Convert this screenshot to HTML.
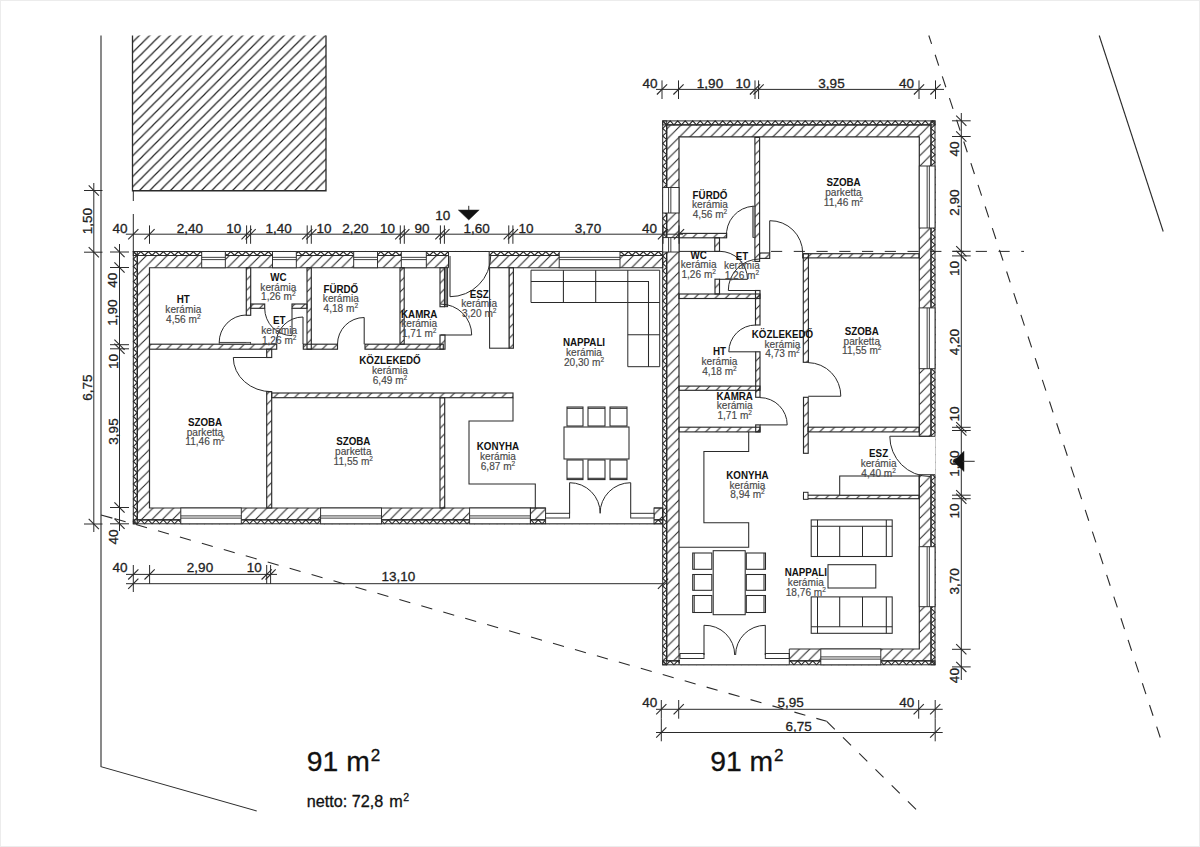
<!DOCTYPE html>
<html><head><meta charset="utf-8"><style>
html,body{margin:0;padding:0;background:#fff;overflow:hidden;}
svg{display:block;font-family:"Liberation Sans",sans-serif;}
</style></head><body>
<svg width="1200" height="847" viewBox="0 0 1200 847">
<rect x="0" y="0" width="1200" height="847" fill="#fff"/>
<defs>
<pattern id="hatch" patternUnits="userSpaceOnUse" width="10.36" height="10.36" x="8.35" y="0">
<path d="M0,10.36 L10.36,0 M-3,3 L3,-3 M7.36,13.36 L13.36,7.36" stroke="#2a2a2a" stroke-width="1.1"/>
</pattern>
<pattern id="hatch2" patternUnits="userSpaceOnUse" width="10.34" height="10.34" x="132.5" y="31.96">
<path d="M0,10.34 L10.34,0 M-3,3 L3,-3 M7.34,13.34 L13.34,7.34" stroke="#222" stroke-width="1.2"/>
</pattern>
<pattern id="insh" patternUnits="userSpaceOnUse" width="7.5" height="40" x="0" y="0">
<path d="M0,0 L3.75,4 L7.5,0" fill="none" stroke="#333" stroke-width="0.95"/>
</pattern>
<pattern id="insv" patternUnits="userSpaceOnUse" width="40" height="7.5" x="0" y="0">
<path d="M0,0 L4.2,3.75 L0,7.5" fill="none" stroke="#333" stroke-width="0.95"/>
</pattern>
</defs>
<path d="M101,35.5 L101,766.7 L256.7,811" fill="none" stroke="#2a2a2a" stroke-width="1.1" />
<rect x="132.5" y="35.5" width="193.5" height="155.25" fill="url(#hatch2)"/>
<path d="M132.5,35.5 V190.75 H326 V35.5" fill="none" stroke="#2a2a2a" stroke-width="1.3" />
<path d="M101,515 L133.3,523.8" fill="none" stroke="#2a2a2a" stroke-width="1.1" stroke-dasharray="11.8,2.7,11,100"/>
<path d="M133.3,523.8 L826.7,721.3" fill="none" stroke="#2a2a2a" stroke-width="1.1" stroke-dasharray="11.4,11.42" stroke-dashoffset="20.02"/>
<path d="M826.7,721.3 L917.3,810.7" fill="none" stroke="#2a2a2a" stroke-width="1.1" stroke-dasharray="11.4,11.42"/>
<path d="M928.8,35.5 L1163.7,748" fill="none" stroke="#2a2a2a" stroke-width="1.1" stroke-dasharray="11.4,11.42" stroke-dashoffset="2.52"/>
<line x1="1099.2" y1="35.5" x2="1163.2" y2="231.5" stroke="#2a2a2a" stroke-width="1.1" />
<line x1="679" y1="251.4" x2="719.5" y2="251.4" stroke="#2a2a2a" stroke-width="1" />
<line x1="760" y1="251.4" x2="1024" y2="251.4" stroke="#2a2a2a" stroke-width="1" stroke-dasharray="11.2,11.55" stroke-dashoffset="11.75"/>
<path d="M137.3,255.5 H662.7 V267.75 H149.5 V508.0 H662.7 V519.8 H137.3 Z" fill="url(#hatch)" stroke="#2a2a2a" stroke-width="1.2"/>
<svg x="133.3" y="250.5" width="529.4" height="6" viewBox="133.3 250.5 529.4 6" overflow="hidden"><path d="M133.3,251.5 L137.05,255.5 L140.8,251.5 L144.55,255.5 L148.3,251.5 L152.05,255.5 L155.8,251.5 L159.55,255.5 L163.3,251.5 L167.05,255.5 L170.8,251.5 L174.55,255.5 L178.3,251.5 L182.05,255.5 L185.8,251.5 L189.55,255.5 L193.3,251.5 L197.05,255.5 L200.8,251.5 L204.55,255.5 L208.3,251.5 L212.05,255.5 L215.8,251.5 L219.55,255.5 L223.3,251.5 L227.05,255.5 L230.8,251.5 L234.55,255.5 L238.3,251.5 L242.05,255.5 L245.8,251.5 L249.55,255.5 L253.3,251.5 L257.05,255.5 L260.8,251.5 L264.55,255.5 L268.3,251.5 L272.05,255.5 L275.8,251.5 L279.55,255.5 L283.3,251.5 L287.05,255.5 L290.8,251.5 L294.55,255.5 L298.3,251.5 L302.05,255.5 L305.8,251.5 L309.55,255.5 L313.3,251.5 L317.05,255.5 L320.8,251.5 L324.55,255.5 L328.3,251.5 L332.05,255.5 L335.8,251.5 L339.55,255.5 L343.3,251.5 L347.05,255.5 L350.8,251.5 L354.55,255.5 L358.3,251.5 L362.05,255.5 L365.8,251.5 L369.55,255.5 L373.3,251.5 L377.05,255.5 L380.8,251.5 L384.55,255.5 L388.3,251.5 L392.05,255.5 L395.8,251.5 L399.55,255.5 L403.3,251.5 L407.05,255.5 L410.8,251.5 L414.55,255.5 L418.3,251.5 L422.05,255.5 L425.8,251.5 L429.55,255.5 L433.3,251.5 L437.05,255.5 L440.8,251.5 L444.55,255.5 L448.3,251.5 L452.05,255.5 L455.8,251.5 L459.55,255.5 L463.3,251.5 L467.05,255.5 L470.8,251.5 L474.55,255.5 L478.3,251.5 L482.05,255.5 L485.8,251.5 L489.55,255.5 L493.3,251.5 L497.05,255.5 L500.8,251.5 L504.55,255.5 L508.3,251.5 L512.05,255.5 L515.8,251.5 L519.55,255.5 L523.3,251.5 L527.05,255.5 L530.8,251.5 L534.55,255.5 L538.3,251.5 L542.05,255.5 L545.8,251.5 L549.55,255.5 L553.3,251.5 L557.05,255.5 L560.8,251.5 L564.55,255.5 L568.3,251.5 L572.05,255.5 L575.8,251.5 L579.55,255.5 L583.3,251.5 L587.05,255.5 L590.8,251.5 L594.55,255.5 L598.3,251.5 L602.05,255.5 L605.8,251.5 L609.55,255.5 L613.3,251.5 L617.05,255.5 L620.8,251.5 L624.55,255.5 L628.3,251.5 L632.05,255.5 L635.8,251.5 L639.55,255.5 L643.3,251.5 L647.05,255.5 L650.8,251.5 L654.55,255.5 L658.3,251.5 L662.05,255.5 L665.8,251.5" fill="none" stroke="#2a2a2a" stroke-width="1.1"/></svg>
<rect x="133.3" y="251.5" width="529.4" height="4" fill="none" stroke="#2a2a2a" stroke-width="1.0" />
<svg x="133.3" y="518.8" width="529.4" height="6" viewBox="133.3 518.8 529.4 6" overflow="hidden"><path d="M133.3,519.8 L137.05,523.8 L140.8,519.8 L144.55,523.8 L148.3,519.8 L152.05,523.8 L155.8,519.8 L159.55,523.8 L163.3,519.8 L167.05,523.8 L170.8,519.8 L174.55,523.8 L178.3,519.8 L182.05,523.8 L185.8,519.8 L189.55,523.8 L193.3,519.8 L197.05,523.8 L200.8,519.8 L204.55,523.8 L208.3,519.8 L212.05,523.8 L215.8,519.8 L219.55,523.8 L223.3,519.8 L227.05,523.8 L230.8,519.8 L234.55,523.8 L238.3,519.8 L242.05,523.8 L245.8,519.8 L249.55,523.8 L253.3,519.8 L257.05,523.8 L260.8,519.8 L264.55,523.8 L268.3,519.8 L272.05,523.8 L275.8,519.8 L279.55,523.8 L283.3,519.8 L287.05,523.8 L290.8,519.8 L294.55,523.8 L298.3,519.8 L302.05,523.8 L305.8,519.8 L309.55,523.8 L313.3,519.8 L317.05,523.8 L320.8,519.8 L324.55,523.8 L328.3,519.8 L332.05,523.8 L335.8,519.8 L339.55,523.8 L343.3,519.8 L347.05,523.8 L350.8,519.8 L354.55,523.8 L358.3,519.8 L362.05,523.8 L365.8,519.8 L369.55,523.8 L373.3,519.8 L377.05,523.8 L380.8,519.8 L384.55,523.8 L388.3,519.8 L392.05,523.8 L395.8,519.8 L399.55,523.8 L403.3,519.8 L407.05,523.8 L410.8,519.8 L414.55,523.8 L418.3,519.8 L422.05,523.8 L425.8,519.8 L429.55,523.8 L433.3,519.8 L437.05,523.8 L440.8,519.8 L444.55,523.8 L448.3,519.8 L452.05,523.8 L455.8,519.8 L459.55,523.8 L463.3,519.8 L467.05,523.8 L470.8,519.8 L474.55,523.8 L478.3,519.8 L482.05,523.8 L485.8,519.8 L489.55,523.8 L493.3,519.8 L497.05,523.8 L500.8,519.8 L504.55,523.8 L508.3,519.8 L512.05,523.8 L515.8,519.8 L519.55,523.8 L523.3,519.8 L527.05,523.8 L530.8,519.8 L534.55,523.8 L538.3,519.8 L542.05,523.8 L545.8,519.8 L549.55,523.8 L553.3,519.8 L557.05,523.8 L560.8,519.8 L564.55,523.8 L568.3,519.8 L572.05,523.8 L575.8,519.8 L579.55,523.8 L583.3,519.8 L587.05,523.8 L590.8,519.8 L594.55,523.8 L598.3,519.8 L602.05,523.8 L605.8,519.8 L609.55,523.8 L613.3,519.8 L617.05,523.8 L620.8,519.8 L624.55,523.8 L628.3,519.8 L632.05,523.8 L635.8,519.8 L639.55,523.8 L643.3,519.8 L647.05,523.8 L650.8,519.8 L654.55,523.8 L658.3,519.8 L662.05,523.8 L665.8,519.8" fill="none" stroke="#2a2a2a" stroke-width="1.1"/></svg>
<rect x="133.3" y="519.8" width="529.4" height="4" fill="none" stroke="#2a2a2a" stroke-width="1.0" />
<svg x="132.3" y="251.5" width="6" height="272.3" viewBox="132.3 251.5 6 272.3" overflow="hidden"><path d="M133.3,251.5 L137.3,255.25 L133.3,259 L137.3,262.75 L133.3,266.5 L137.3,270.25 L133.3,274 L137.3,277.75 L133.3,281.5 L137.3,285.25 L133.3,289 L137.3,292.75 L133.3,296.5 L137.3,300.25 L133.3,304 L137.3,307.75 L133.3,311.5 L137.3,315.25 L133.3,319 L137.3,322.75 L133.3,326.5 L137.3,330.25 L133.3,334 L137.3,337.75 L133.3,341.5 L137.3,345.25 L133.3,349 L137.3,352.75 L133.3,356.5 L137.3,360.25 L133.3,364 L137.3,367.75 L133.3,371.5 L137.3,375.25 L133.3,379 L137.3,382.75 L133.3,386.5 L137.3,390.25 L133.3,394 L137.3,397.75 L133.3,401.5 L137.3,405.25 L133.3,409 L137.3,412.75 L133.3,416.5 L137.3,420.25 L133.3,424 L137.3,427.75 L133.3,431.5 L137.3,435.25 L133.3,439 L137.3,442.75 L133.3,446.5 L137.3,450.25 L133.3,454 L137.3,457.75 L133.3,461.5 L137.3,465.25 L133.3,469 L137.3,472.75 L133.3,476.5 L137.3,480.25 L133.3,484 L137.3,487.75 L133.3,491.5 L137.3,495.25 L133.3,499 L137.3,502.75 L133.3,506.5 L137.3,510.25 L133.3,514 L137.3,517.75 L133.3,521.5 L137.3,525.25" fill="none" stroke="#2a2a2a" stroke-width="1.1"/></svg>
<rect x="133.3" y="251.5" width="4" height="272.3" fill="none" stroke="#2a2a2a" stroke-width="1.0" />
<path d="M666.7,124.9 H931.0 V660.8 H666.7 Z M679.0,136.9 V649.0 H919.3 V136.9 Z" fill="url(#hatch)" stroke="#2a2a2a" stroke-width="1.2" fill-rule="evenodd"/>
<svg x="662.7" y="119.9" width="272.3" height="6" viewBox="662.7 119.9 272.3 6" overflow="hidden"><path d="M662.7,120.9 L666.45,124.9 L670.2,120.9 L673.95,124.9 L677.7,120.9 L681.45,124.9 L685.2,120.9 L688.95,124.9 L692.7,120.9 L696.45,124.9 L700.2,120.9 L703.95,124.9 L707.7,120.9 L711.45,124.9 L715.2,120.9 L718.95,124.9 L722.7,120.9 L726.45,124.9 L730.2,120.9 L733.95,124.9 L737.7,120.9 L741.45,124.9 L745.2,120.9 L748.95,124.9 L752.7,120.9 L756.45,124.9 L760.2,120.9 L763.95,124.9 L767.7,120.9 L771.45,124.9 L775.2,120.9 L778.95,124.9 L782.7,120.9 L786.45,124.9 L790.2,120.9 L793.95,124.9 L797.7,120.9 L801.45,124.9 L805.2,120.9 L808.95,124.9 L812.7,120.9 L816.45,124.9 L820.2,120.9 L823.95,124.9 L827.7,120.9 L831.45,124.9 L835.2,120.9 L838.95,124.9 L842.7,120.9 L846.45,124.9 L850.2,120.9 L853.95,124.9 L857.7,120.9 L861.45,124.9 L865.2,120.9 L868.95,124.9 L872.7,120.9 L876.45,124.9 L880.2,120.9 L883.95,124.9 L887.7,120.9 L891.45,124.9 L895.2,120.9 L898.95,124.9 L902.7,120.9 L906.45,124.9 L910.2,120.9 L913.95,124.9 L917.7,120.9 L921.45,124.9 L925.2,120.9 L928.95,124.9 L932.7,120.9 L936.45,124.9" fill="none" stroke="#2a2a2a" stroke-width="1.1"/></svg>
<rect x="662.7" y="120.9" width="272.3" height="4" fill="none" stroke="#2a2a2a" stroke-width="1.0" />
<svg x="662.7" y="659.8" width="272.3" height="6" viewBox="662.7 659.8 272.3 6" overflow="hidden"><path d="M662.7,660.8 L666.45,664.8 L670.2,660.8 L673.95,664.8 L677.7,660.8 L681.45,664.8 L685.2,660.8 L688.95,664.8 L692.7,660.8 L696.45,664.8 L700.2,660.8 L703.95,664.8 L707.7,660.8 L711.45,664.8 L715.2,660.8 L718.95,664.8 L722.7,660.8 L726.45,664.8 L730.2,660.8 L733.95,664.8 L737.7,660.8 L741.45,664.8 L745.2,660.8 L748.95,664.8 L752.7,660.8 L756.45,664.8 L760.2,660.8 L763.95,664.8 L767.7,660.8 L771.45,664.8 L775.2,660.8 L778.95,664.8 L782.7,660.8 L786.45,664.8 L790.2,660.8 L793.95,664.8 L797.7,660.8 L801.45,664.8 L805.2,660.8 L808.95,664.8 L812.7,660.8 L816.45,664.8 L820.2,660.8 L823.95,664.8 L827.7,660.8 L831.45,664.8 L835.2,660.8 L838.95,664.8 L842.7,660.8 L846.45,664.8 L850.2,660.8 L853.95,664.8 L857.7,660.8 L861.45,664.8 L865.2,660.8 L868.95,664.8 L872.7,660.8 L876.45,664.8 L880.2,660.8 L883.95,664.8 L887.7,660.8 L891.45,664.8 L895.2,660.8 L898.95,664.8 L902.7,660.8 L906.45,664.8 L910.2,660.8 L913.95,664.8 L917.7,660.8 L921.45,664.8 L925.2,660.8 L928.95,664.8 L932.7,660.8 L936.45,664.8" fill="none" stroke="#2a2a2a" stroke-width="1.1"/></svg>
<rect x="662.7" y="660.8" width="272.3" height="4" fill="none" stroke="#2a2a2a" stroke-width="1.0" />
<svg x="661.7" y="120.9" width="6" height="543.9" viewBox="661.7 120.9 6 543.9" overflow="hidden"><path d="M662.7,120.9 L666.7,124.65 L662.7,128.4 L666.7,132.15 L662.7,135.9 L666.7,139.65 L662.7,143.4 L666.7,147.15 L662.7,150.9 L666.7,154.65 L662.7,158.4 L666.7,162.15 L662.7,165.9 L666.7,169.65 L662.7,173.4 L666.7,177.15 L662.7,180.9 L666.7,184.65 L662.7,188.4 L666.7,192.15 L662.7,195.9 L666.7,199.65 L662.7,203.4 L666.7,207.15 L662.7,210.9 L666.7,214.65 L662.7,218.4 L666.7,222.15 L662.7,225.9 L666.7,229.65 L662.7,233.4 L666.7,237.15 L662.7,240.9 L666.7,244.65 L662.7,248.4 L666.7,252.15 L662.7,255.9 L666.7,259.65 L662.7,263.4 L666.7,267.15 L662.7,270.9 L666.7,274.65 L662.7,278.4 L666.7,282.15 L662.7,285.9 L666.7,289.65 L662.7,293.4 L666.7,297.15 L662.7,300.9 L666.7,304.65 L662.7,308.4 L666.7,312.15 L662.7,315.9 L666.7,319.65 L662.7,323.4 L666.7,327.15 L662.7,330.9 L666.7,334.65 L662.7,338.4 L666.7,342.15 L662.7,345.9 L666.7,349.65 L662.7,353.4 L666.7,357.15 L662.7,360.9 L666.7,364.65 L662.7,368.4 L666.7,372.15 L662.7,375.9 L666.7,379.65 L662.7,383.4 L666.7,387.15 L662.7,390.9 L666.7,394.65 L662.7,398.4 L666.7,402.15 L662.7,405.9 L666.7,409.65 L662.7,413.4 L666.7,417.15 L662.7,420.9 L666.7,424.65 L662.7,428.4 L666.7,432.15 L662.7,435.9 L666.7,439.65 L662.7,443.4 L666.7,447.15 L662.7,450.9 L666.7,454.65 L662.7,458.4 L666.7,462.15 L662.7,465.9 L666.7,469.65 L662.7,473.4 L666.7,477.15 L662.7,480.9 L666.7,484.65 L662.7,488.4 L666.7,492.15 L662.7,495.9 L666.7,499.65 L662.7,503.4 L666.7,507.15 L662.7,510.9 L666.7,514.65 L662.7,518.4 L666.7,522.15 L662.7,525.9 L666.7,529.65 L662.7,533.4 L666.7,537.15 L662.7,540.9 L666.7,544.65 L662.7,548.4 L666.7,552.15 L662.7,555.9 L666.7,559.65 L662.7,563.4 L666.7,567.15 L662.7,570.9 L666.7,574.65 L662.7,578.4 L666.7,582.15 L662.7,585.9 L666.7,589.65 L662.7,593.4 L666.7,597.15 L662.7,600.9 L666.7,604.65 L662.7,608.4 L666.7,612.15 L662.7,615.9 L666.7,619.65 L662.7,623.4 L666.7,627.15 L662.7,630.9 L666.7,634.65 L662.7,638.4 L666.7,642.15 L662.7,645.9 L666.7,649.65 L662.7,653.4 L666.7,657.15 L662.7,660.9 L666.7,664.65 L662.7,668.4" fill="none" stroke="#2a2a2a" stroke-width="1.1"/></svg>
<rect x="662.7" y="120.9" width="4" height="543.9" fill="none" stroke="#2a2a2a" stroke-width="1.0" />
<svg x="930" y="120.9" width="6" height="543.9" viewBox="930 120.9 6 543.9" overflow="hidden"><path d="M931,120.9 L935,124.65 L931,128.4 L935,132.15 L931,135.9 L935,139.65 L931,143.4 L935,147.15 L931,150.9 L935,154.65 L931,158.4 L935,162.15 L931,165.9 L935,169.65 L931,173.4 L935,177.15 L931,180.9 L935,184.65 L931,188.4 L935,192.15 L931,195.9 L935,199.65 L931,203.4 L935,207.15 L931,210.9 L935,214.65 L931,218.4 L935,222.15 L931,225.9 L935,229.65 L931,233.4 L935,237.15 L931,240.9 L935,244.65 L931,248.4 L935,252.15 L931,255.9 L935,259.65 L931,263.4 L935,267.15 L931,270.9 L935,274.65 L931,278.4 L935,282.15 L931,285.9 L935,289.65 L931,293.4 L935,297.15 L931,300.9 L935,304.65 L931,308.4 L935,312.15 L931,315.9 L935,319.65 L931,323.4 L935,327.15 L931,330.9 L935,334.65 L931,338.4 L935,342.15 L931,345.9 L935,349.65 L931,353.4 L935,357.15 L931,360.9 L935,364.65 L931,368.4 L935,372.15 L931,375.9 L935,379.65 L931,383.4 L935,387.15 L931,390.9 L935,394.65 L931,398.4 L935,402.15 L931,405.9 L935,409.65 L931,413.4 L935,417.15 L931,420.9 L935,424.65 L931,428.4 L935,432.15 L931,435.9 L935,439.65 L931,443.4 L935,447.15 L931,450.9 L935,454.65 L931,458.4 L935,462.15 L931,465.9 L935,469.65 L931,473.4 L935,477.15 L931,480.9 L935,484.65 L931,488.4 L935,492.15 L931,495.9 L935,499.65 L931,503.4 L935,507.15 L931,510.9 L935,514.65 L931,518.4 L935,522.15 L931,525.9 L935,529.65 L931,533.4 L935,537.15 L931,540.9 L935,544.65 L931,548.4 L935,552.15 L931,555.9 L935,559.65 L931,563.4 L935,567.15 L931,570.9 L935,574.65 L931,578.4 L935,582.15 L931,585.9 L935,589.65 L931,593.4 L935,597.15 L931,600.9 L935,604.65 L931,608.4 L935,612.15 L931,615.9 L935,619.65 L931,623.4 L935,627.15 L931,630.9 L935,634.65 L931,638.4 L935,642.15 L931,645.9 L935,649.65 L931,653.4 L935,657.15 L931,660.9 L935,664.65 L931,668.4" fill="none" stroke="#2a2a2a" stroke-width="1.1"/></svg>
<rect x="931" y="120.9" width="4" height="543.9" fill="none" stroke="#2a2a2a" stroke-width="1.0" />
<rect x="201.7" y="251.5" width="23.6" height="16.25" fill="#fff" stroke="#2a2a2a" stroke-width="0.95" />
<line x1="201.7" y1="257.35" x2="225.3" y2="257.35" stroke="#2a2a2a" stroke-width="0.9" />
<line x1="201.7" y1="259.62" x2="225.3" y2="259.62" stroke="#2a2a2a" stroke-width="0.9" />
<rect x="272.5" y="251.5" width="23.8" height="16.25" fill="#fff" stroke="#2a2a2a" stroke-width="0.95" />
<line x1="272.5" y1="257.35" x2="296.3" y2="257.35" stroke="#2a2a2a" stroke-width="0.9" />
<line x1="272.5" y1="259.62" x2="296.3" y2="259.62" stroke="#2a2a2a" stroke-width="0.9" />
<rect x="353.7" y="251.5" width="23.8" height="16.25" fill="#fff" stroke="#2a2a2a" stroke-width="0.95" />
<line x1="353.7" y1="257.35" x2="377.5" y2="257.35" stroke="#2a2a2a" stroke-width="0.9" />
<line x1="353.7" y1="259.62" x2="377.5" y2="259.62" stroke="#2a2a2a" stroke-width="0.9" />
<rect x="401.3" y="251.5" width="25" height="16.25" fill="#fff" stroke="#2a2a2a" stroke-width="0.95" />
<line x1="401.3" y1="257.35" x2="426.3" y2="257.35" stroke="#2a2a2a" stroke-width="0.9" />
<line x1="401.3" y1="259.62" x2="426.3" y2="259.62" stroke="#2a2a2a" stroke-width="0.9" />
<rect x="559.2" y="251.5" width="60.8" height="16.25" fill="#fff" stroke="#2a2a2a" stroke-width="0.95" />
<line x1="559.2" y1="257.35" x2="620" y2="257.35" stroke="#2a2a2a" stroke-width="0.9" />
<line x1="559.2" y1="259.62" x2="620" y2="259.62" stroke="#2a2a2a" stroke-width="0.9" />
<rect x="448.5" y="251" width="40.7" height="18.35" fill="#fff"/>
<line x1="448.5" y1="251.5" x2="489.2" y2="251.5" stroke="#2a2a2a" stroke-width="1.05" />
<line x1="448.5" y1="251.5" x2="448.5" y2="267.75" stroke="#2a2a2a" stroke-width="1.05" />
<line x1="489.2" y1="251.5" x2="489.2" y2="267.75" stroke="#2a2a2a" stroke-width="1.05" />
<rect x="180.8" y="508" width="60.5" height="15.8" fill="#fff" stroke="#2a2a2a" stroke-width="0.95" />
<line x1="180.8" y1="518.11" x2="241.3" y2="518.11" stroke="#2a2a2a" stroke-width="0.9" />
<line x1="180.8" y1="515.9" x2="241.3" y2="515.9" stroke="#2a2a2a" stroke-width="0.9" />
<rect x="320.6" y="508" width="60.9" height="15.8" fill="#fff" stroke="#2a2a2a" stroke-width="0.95" />
<line x1="320.6" y1="518.11" x2="381.5" y2="518.11" stroke="#2a2a2a" stroke-width="0.9" />
<line x1="320.6" y1="515.9" x2="381.5" y2="515.9" stroke="#2a2a2a" stroke-width="0.9" />
<rect x="469.6" y="508" width="60.8" height="15.8" fill="#fff" stroke="#2a2a2a" stroke-width="0.95" />
<line x1="469.6" y1="518.11" x2="530.4" y2="518.11" stroke="#2a2a2a" stroke-width="0.9" />
<line x1="469.6" y1="515.9" x2="530.4" y2="515.9" stroke="#2a2a2a" stroke-width="0.9" />
<rect x="545.6" y="506.4" width="108.4" height="17.9" fill="#fff"/>
<rect x="530.4" y="508" width="15.2" height="15.8" fill="none" stroke="#2a2a2a" stroke-width="0.95" />
<rect x="654" y="508" width="8.7" height="15.8" fill="none" stroke="#2a2a2a" stroke-width="0.95" />
<line x1="545.6" y1="523.8" x2="654" y2="523.8" stroke="#2a2a2a" stroke-width="1.05" />
<rect x="545.6" y="513.3" width="24" height="4.7" fill="#fff" stroke="#2a2a2a" stroke-width="0.95" />
<rect x="630.7" y="513.3" width="23.3" height="4.7" fill="#fff" stroke="#2a2a2a" stroke-width="0.95" />
<rect x="662.7" y="187.5" width="16.3" height="25.5" fill="#fff" stroke="#2a2a2a" stroke-width="0.95" />
<line x1="668.57" y1="187.5" x2="668.57" y2="213" stroke="#2a2a2a" stroke-width="0.9" />
<line x1="670.85" y1="187.5" x2="670.85" y2="213" stroke="#2a2a2a" stroke-width="0.9" />
<rect x="662.7" y="237.6" width="16.3" height="14.4" fill="#fff" stroke="#2a2a2a" stroke-width="0.95" />
<line x1="668.57" y1="237.6" x2="668.57" y2="252" stroke="#2a2a2a" stroke-width="0.9" />
<line x1="670.85" y1="237.6" x2="670.85" y2="252" stroke="#2a2a2a" stroke-width="0.9" />
<rect x="919.3" y="166" width="15.7" height="62" fill="#fff" stroke="#2a2a2a" stroke-width="0.95" />
<line x1="929.35" y1="166" x2="929.35" y2="228" stroke="#2a2a2a" stroke-width="0.9" />
<line x1="927.15" y1="166" x2="927.15" y2="228" stroke="#2a2a2a" stroke-width="0.9" />
<rect x="919.3" y="307.9" width="15.7" height="60.8" fill="#fff" stroke="#2a2a2a" stroke-width="0.95" />
<line x1="929.35" y1="307.9" x2="929.35" y2="368.7" stroke="#2a2a2a" stroke-width="0.9" />
<line x1="927.15" y1="307.9" x2="927.15" y2="368.7" stroke="#2a2a2a" stroke-width="0.9" />
<rect x="919.3" y="546.7" width="15.7" height="60" fill="#fff" stroke="#2a2a2a" stroke-width="0.95" />
<line x1="929.35" y1="546.7" x2="929.35" y2="606.7" stroke="#2a2a2a" stroke-width="0.9" />
<line x1="927.15" y1="546.7" x2="927.15" y2="606.7" stroke="#2a2a2a" stroke-width="0.9" />
<rect x="917.7" y="436.3" width="17.8" height="38.4" fill="#fff"/>
<line x1="919.3" y1="436.3" x2="935" y2="436.3" stroke="#2a2a2a" stroke-width="0.95" />
<line x1="919.3" y1="474.7" x2="935" y2="474.7" stroke="#2a2a2a" stroke-width="0.95" />
<rect x="820.8" y="649" width="60" height="15.8" fill="#fff" stroke="#2a2a2a" stroke-width="0.95" />
<line x1="820.8" y1="659.11" x2="880.8" y2="659.11" stroke="#2a2a2a" stroke-width="0.9" />
<line x1="820.8" y1="656.9" x2="880.8" y2="656.9" stroke="#2a2a2a" stroke-width="0.9" />
<rect x="680" y="647.4" width="109.3" height="17.9" fill="#fff"/>
<line x1="680" y1="664.8" x2="789.3" y2="664.8" stroke="#2a2a2a" stroke-width="1.05" />
<rect x="680" y="653.5" width="24" height="5" fill="#fff" stroke="#2a2a2a" stroke-width="0.95" />
<rect x="765.3" y="653.5" width="24" height="5" fill="#fff" stroke="#2a2a2a" stroke-width="0.95" />
<line x1="679" y1="649" x2="679" y2="664.8" stroke="#2a2a2a" stroke-width="0.95" />
<line x1="789.3" y1="649" x2="789.3" y2="664.8" stroke="#2a2a2a" stroke-width="0.95" />
<rect x="246.3" y="267.75" width="4.4" height="47.55" fill="url(#hatch)" stroke="#2a2a2a" stroke-width="1.15" />
<rect x="250.7" y="304" width="14" height="4.3" fill="url(#hatch)" stroke="#2a2a2a" stroke-width="1.15" />
<rect x="292" y="304" width="15" height="4.3" fill="url(#hatch)" stroke="#2a2a2a" stroke-width="1.15" />
<rect x="307" y="267.75" width="4.3" height="81.45" fill="url(#hatch)" stroke="#2a2a2a" stroke-width="1.15" />
<rect x="149.5" y="344.2" width="127.2" height="5" fill="url(#hatch)" stroke="#2a2a2a" stroke-width="1.15" />
<rect x="266.7" y="349.2" width="5" height="8.3" fill="url(#hatch)" stroke="#2a2a2a" stroke-width="1.15" />
<rect x="266.7" y="391.7" width="5" height="116.3" fill="url(#hatch)" stroke="#2a2a2a" stroke-width="1.15" />
<rect x="271.7" y="393" width="241.3" height="4.7" fill="url(#hatch)" stroke="#2a2a2a" stroke-width="1.15" />
<rect x="440" y="397.7" width="4.7" height="110.3" fill="url(#hatch)" stroke="#2a2a2a" stroke-width="1.15" />
<rect x="303.3" y="344.2" width="34.2" height="5" fill="url(#hatch)" stroke="#2a2a2a" stroke-width="1.15" />
<rect x="365" y="344.2" width="78.3" height="5" fill="url(#hatch)" stroke="#2a2a2a" stroke-width="1.15" />
<rect x="400" y="267.75" width="4.2" height="76.45" fill="url(#hatch)" stroke="#2a2a2a" stroke-width="1.15" />
<rect x="440" y="267.75" width="4.5" height="38.95" fill="url(#hatch)" stroke="#2a2a2a" stroke-width="1.15" />
<rect x="440" y="335" width="5" height="14.2" fill="url(#hatch)" stroke="#2a2a2a" stroke-width="1.15" />
<rect x="509" y="267.75" width="4.4" height="80.45" fill="url(#hatch)" stroke="#2a2a2a" stroke-width="1.15" />
<rect x="489.6" y="267.75" width="19.4" height="80.45" fill="#fff" stroke="#2a2a2a" stroke-width="1.05" />
<rect x="444.5" y="267.75" width="3.1" height="38.95" fill="#777" stroke="#2a2a2a" stroke-width="0.9" />
<line x1="246.2" y1="342.5" x2="219.2" y2="342.5" stroke="#2a2a2a" stroke-width="1.05" />
<path d="M219.2,342.5 A27.3,27.3 0 0 1 246.2,315" fill="none" stroke="#2a2a2a" stroke-width="1.0" />
<rect x="219.2" y="342.3" width="31.5" height="1.9" fill="#bbb" stroke="#2a2a2a" stroke-width="0.7" />
<line x1="292" y1="308.3" x2="292" y2="335.6" stroke="#2a2a2a" stroke-width="1.05" />
<path d="M292,335.6 A27.3,27.3 0 0 1 264.7,308.3" fill="none" stroke="#2a2a2a" stroke-width="1.0" />
<line x1="303" y1="344" x2="303" y2="317" stroke="#2a2a2a" stroke-width="1.05" />
<path d="M303,317 A27,27 0 0 0 276,344" fill="none" stroke="#2a2a2a" stroke-width="1.0" />
<line x1="266.7" y1="357.5" x2="233.3" y2="357.5" stroke="#2a2a2a" stroke-width="1.05" />
<path d="M233.3,357.5 A38.4,34.2 0 0 0 271.7,391.7" fill="none" stroke="#2a2a2a" stroke-width="1.0" />
<line x1="364.2" y1="344.2" x2="364.2" y2="317.5" stroke="#2a2a2a" stroke-width="1.05" />
<path d="M364.2,317.5 A26.7,26.7 0 0 0 337.5,344.2" fill="none" stroke="#2a2a2a" stroke-width="1.0" />
<line x1="440.8" y1="335" x2="471.7" y2="335" stroke="#2a2a2a" stroke-width="1.05" />
<path d="M471.7,335 A30.9,30.9 0 0 0 440.8,304.1" fill="none" stroke="#2a2a2a" stroke-width="1.0" />
<line x1="450" y1="256" x2="450" y2="296.7" stroke="#2a2a2a" stroke-width="1.05" />
<path d="M450,296.7 A40.7,40.7 0 0 0 490.7,256" fill="none" stroke="#2a2a2a" stroke-width="1.0" />
<line x1="569.6" y1="513.3" x2="569.6" y2="482.7" stroke="#2a2a2a" stroke-width="1.05" />
<path d="M569.6,482.7 A30.6,30.6 0 0 1 600.2,513.3" fill="none" stroke="#2a2a2a" stroke-width="1.0" />
<line x1="630.7" y1="513.3" x2="630.7" y2="482.7" stroke="#2a2a2a" stroke-width="1.05" />
<path d="M630.7,482.7 A30.6,30.6 0 0 0 600.1,513.3" fill="none" stroke="#2a2a2a" stroke-width="1.0" />
<path d="M531,270.2 H659.7 V366.7 H627.8 V302.5 H531 Z" fill="none" stroke="#2a2a2a" stroke-width="1" />
<path d="M531,281.5 H648.5 V366.7" fill="none" stroke="#2a2a2a" stroke-width="1.05" />
<line x1="563.4" y1="270.2" x2="563.4" y2="302.5" stroke="#2a2a2a" stroke-width="1.05" />
<line x1="595.7" y1="270.2" x2="595.7" y2="302.5" stroke="#2a2a2a" stroke-width="1.05" />
<line x1="627.8" y1="270.2" x2="627.8" y2="302.5" stroke="#2a2a2a" stroke-width="1.05" />
<line x1="627.8" y1="334.7" x2="659.7" y2="334.7" stroke="#2a2a2a" stroke-width="1.05" />
<line x1="627.8" y1="302.5" x2="659.7" y2="302.5" stroke="#2a2a2a" stroke-width="1.05" />
<path d="M513,397.7 V421 H469 V484 H535.3 V508" fill="none" stroke="#2a2a2a" stroke-width="1.05" />
<rect x="564" y="427" width="65" height="32" fill="#fff" stroke="#2a2a2a" stroke-width="1.05" />
<rect x="567" y="407" width="16" height="19" fill="#fff" stroke="#2a2a2a" stroke-width="1.05" />
<line x1="567" y1="408.3" x2="583" y2="408.3" stroke="#2a2a2a" stroke-width="1.05" />
<rect x="567" y="460" width="16" height="19.6" fill="#fff" stroke="#2a2a2a" stroke-width="1.05" />
<line x1="567" y1="478.3" x2="583" y2="478.3" stroke="#2a2a2a" stroke-width="1.05" />
<rect x="588" y="407" width="17" height="19" fill="#fff" stroke="#2a2a2a" stroke-width="1.05" />
<line x1="588" y1="408.3" x2="605" y2="408.3" stroke="#2a2a2a" stroke-width="1.05" />
<rect x="588" y="460" width="17" height="19.6" fill="#fff" stroke="#2a2a2a" stroke-width="1.05" />
<line x1="588" y1="478.3" x2="605" y2="478.3" stroke="#2a2a2a" stroke-width="1.05" />
<rect x="610" y="407" width="17" height="19" fill="#fff" stroke="#2a2a2a" stroke-width="1.05" />
<line x1="610" y1="408.3" x2="627" y2="408.3" stroke="#2a2a2a" stroke-width="1.05" />
<rect x="610" y="460" width="17" height="19.6" fill="#fff" stroke="#2a2a2a" stroke-width="1.05" />
<line x1="610" y1="478.3" x2="627" y2="478.3" stroke="#2a2a2a" stroke-width="1.05" />
<text transform="translate(183.3,303.3) scale(0.96,1)" font-size="10.2" text-anchor="middle" font-weight="bold" fill="#111">HT</text>
<text x="183.3" y="313" font-size="10.1" text-anchor="middle" font-weight="normal" fill="#484848" stroke="#484848" stroke-width="0.15" >kerámia</text>
<text x="183.3" y="322.9" font-size="10.1" text-anchor="middle" font-weight="normal" fill="#484848" stroke="#484848" stroke-width="0.15" >4,56 m<tspan font-size="6.5" dy="-4">2</tspan></text>
<text transform="translate(278.3,280.8) scale(0.96,1)" font-size="10.2" text-anchor="middle" font-weight="bold" fill="#111">WC</text>
<text x="278.3" y="290.5" font-size="10.1" text-anchor="middle" font-weight="normal" fill="#484848" stroke="#484848" stroke-width="0.15" >kerámia</text>
<text x="278.3" y="300.4" font-size="10.1" text-anchor="middle" font-weight="normal" fill="#484848" stroke="#484848" stroke-width="0.15" >1,26 m<tspan font-size="6.5" dy="-4">2</tspan></text>
<text transform="translate(279.2,324.2) scale(0.96,1)" font-size="10.2" text-anchor="middle" font-weight="bold" fill="#111">ET</text>
<text x="279.2" y="333.9" font-size="10.1" text-anchor="middle" font-weight="normal" fill="#484848" stroke="#484848" stroke-width="0.15" >kerámia</text>
<text x="279.2" y="343.8" font-size="10.1" text-anchor="middle" font-weight="normal" fill="#484848" stroke="#484848" stroke-width="0.15" >1,26 m<tspan font-size="6.5" dy="-4">2</tspan></text>
<text transform="translate(340.8,292.5) scale(0.96,1)" font-size="10.2" text-anchor="middle" font-weight="bold" fill="#111">FÜRDŐ</text>
<text x="340.8" y="302.2" font-size="10.1" text-anchor="middle" font-weight="normal" fill="#484848" stroke="#484848" stroke-width="0.15" >kerámia</text>
<text x="340.8" y="312.1" font-size="10.1" text-anchor="middle" font-weight="normal" fill="#484848" stroke="#484848" stroke-width="0.15" >4,18 m<tspan font-size="6.5" dy="-4">2</tspan></text>
<text transform="translate(419.2,317.5) scale(0.96,1)" font-size="10.2" text-anchor="middle" font-weight="bold" fill="#111">KAMRA</text>
<text x="419.2" y="327.2" font-size="10.1" text-anchor="middle" font-weight="normal" fill="#484848" stroke="#484848" stroke-width="0.15" >kerámia</text>
<text x="419.2" y="337.1" font-size="10.1" text-anchor="middle" font-weight="normal" fill="#484848" stroke="#484848" stroke-width="0.15" >1,71 m<tspan font-size="6.5" dy="-4">2</tspan></text>
<text transform="translate(479.2,297.5) scale(0.96,1)" font-size="10.2" text-anchor="middle" font-weight="bold" fill="#111">ESZ</text>
<text x="479.2" y="307.2" font-size="10.1" text-anchor="middle" font-weight="normal" fill="#484848" stroke="#484848" stroke-width="0.15" >kerámia</text>
<text x="479.2" y="317.1" font-size="10.1" text-anchor="middle" font-weight="normal" fill="#484848" stroke="#484848" stroke-width="0.15" >3,20 m<tspan font-size="6.5" dy="-4">2</tspan></text>
<text transform="translate(390,364.2) scale(0.96,1)" font-size="10.2" text-anchor="middle" font-weight="bold" fill="#111">KÖZLEKEDŐ</text>
<text x="390" y="373.9" font-size="10.1" text-anchor="middle" font-weight="normal" fill="#484848" stroke="#484848" stroke-width="0.15" >kerámia</text>
<text x="390" y="383.8" font-size="10.1" text-anchor="middle" font-weight="normal" fill="#484848" stroke="#484848" stroke-width="0.15" >6,49 m<tspan font-size="6.5" dy="-4">2</tspan></text>
<text transform="translate(584,346) scale(0.96,1)" font-size="10.2" text-anchor="middle" font-weight="bold" fill="#111">NAPPALI</text>
<text x="584" y="355.7" font-size="10.1" text-anchor="middle" font-weight="normal" fill="#484848" stroke="#484848" stroke-width="0.15" >kerámia</text>
<text x="584" y="365.6" font-size="10.1" text-anchor="middle" font-weight="normal" fill="#484848" stroke="#484848" stroke-width="0.15" >20,30 m<tspan font-size="6.5" dy="-4">2</tspan></text>
<text transform="translate(205,425.8) scale(0.96,1)" font-size="10.2" text-anchor="middle" font-weight="bold" fill="#111">SZOBA</text>
<text x="205" y="435.5" font-size="10.1" text-anchor="middle" font-weight="normal" fill="#484848" stroke="#484848" stroke-width="0.15" >parketta</text>
<text x="205" y="445.4" font-size="10.1" text-anchor="middle" font-weight="normal" fill="#484848" stroke="#484848" stroke-width="0.15" >11,46 m<tspan font-size="6.5" dy="-4">2</tspan></text>
<text transform="translate(353.3,445) scale(0.96,1)" font-size="10.2" text-anchor="middle" font-weight="bold" fill="#111">SZOBA</text>
<text x="353.3" y="454.7" font-size="10.1" text-anchor="middle" font-weight="normal" fill="#484848" stroke="#484848" stroke-width="0.15" >parketta</text>
<text x="353.3" y="464.6" font-size="10.1" text-anchor="middle" font-weight="normal" fill="#484848" stroke="#484848" stroke-width="0.15" >11,55 m<tspan font-size="6.5" dy="-4">2</tspan></text>
<text transform="translate(498,450) scale(0.96,1)" font-size="10.2" text-anchor="middle" font-weight="bold" fill="#111">KONYHA</text>
<text x="498" y="459.7" font-size="10.1" text-anchor="middle" font-weight="normal" fill="#484848" stroke="#484848" stroke-width="0.15" >kerámia</text>
<text x="498" y="469.6" font-size="10.1" text-anchor="middle" font-weight="normal" fill="#484848" stroke="#484848" stroke-width="0.15" >6,87 m<tspan font-size="6.5" dy="-4">2</tspan></text>
<rect x="754.9" y="137.4" width="4.7" height="124" fill="url(#hatch)" stroke="#2a2a2a" stroke-width="1.15" />
<rect x="679" y="233.4" width="47.6" height="4.4" fill="url(#hatch)" stroke="#2a2a2a" stroke-width="1.15" />
<rect x="714.8" y="237.8" width="4.7" height="13.6" fill="url(#hatch)" stroke="#2a2a2a" stroke-width="1.15" />
<rect x="715" y="279.2" width="4.5" height="14.8" fill="url(#hatch)" stroke="#2a2a2a" stroke-width="1.15" />
<rect x="679" y="294" width="81" height="4.5" fill="url(#hatch)" stroke="#2a2a2a" stroke-width="1.15" />
<rect x="755.5" y="290.5" width="4.5" height="34.5" fill="url(#hatch)" stroke="#2a2a2a" stroke-width="1.15" />
<rect x="755.7" y="351.8" width="4.3" height="45.5" fill="url(#hatch)" stroke="#2a2a2a" stroke-width="1.15" />
<rect x="755.7" y="424.9" width="4.3" height="7" fill="url(#hatch)" stroke="#2a2a2a" stroke-width="1.15" />
<rect x="679" y="386.1" width="81" height="4.2" fill="url(#hatch)" stroke="#2a2a2a" stroke-width="1.15" />
<rect x="679" y="427.2" width="81" height="4.7" fill="url(#hatch)" stroke="#2a2a2a" stroke-width="1.15" />
<rect x="802.7" y="253.7" width="116.3" height="4.2" fill="url(#hatch)" stroke="#2a2a2a" stroke-width="1.15" />
<rect x="803.3" y="253.7" width="5.1" height="108.6" fill="url(#hatch)" stroke="#2a2a2a" stroke-width="1.15" />
<rect x="803.5" y="397.3" width="4.7" height="56" fill="url(#hatch)" stroke="#2a2a2a" stroke-width="1.15" />
<rect x="808" y="427.2" width="111" height="4.7" fill="url(#hatch)" stroke="#2a2a2a" stroke-width="1.15" />
<rect x="803.5" y="495.2" width="115.5" height="3.5" fill="url(#hatch)" stroke="#2a2a2a" stroke-width="1.15" />
<rect x="759.6" y="253" width="10.1" height="5.4" fill="url(#hatch)" stroke="#2a2a2a" stroke-width="1.15" />
<rect x="839.7" y="476" width="79.3" height="19.2" fill="#fff" stroke="#2a2a2a" stroke-width="1.05" />
<rect x="803.5" y="492.3" width="4.5" height="7" fill="#fff" stroke="#2a2a2a" stroke-width="1.0" />
<line x1="753.5" y1="237.5" x2="753.5" y2="206.2" stroke="#2a2a2a" stroke-width="1.05" />
<path d="M753.5,206.2 A28.5,28.5 0 0 0 726.6,237.5" fill="none" stroke="#2a2a2a" stroke-width="1.0" />
<rect x="752.8" y="206.2" width="2.2" height="31.3" fill="#999" stroke="#2a2a2a" stroke-width="0.7" />
<line x1="769.7" y1="253" x2="769.7" y2="220.7" stroke="#2a2a2a" stroke-width="1.05" />
<path d="M769.7,220.7 A32.5,32.5 0 0 1 802.7,253" fill="none" stroke="#2a2a2a" stroke-width="1.0" />
<line x1="719.5" y1="279.3" x2="747.5" y2="279.3" stroke="#2a2a2a" stroke-width="1.05" />
<path d="M747.5,279.3 A28,28 0 0 0 719.5,251.3" fill="none" stroke="#2a2a2a" stroke-width="1.0" />
<line x1="759.6" y1="290.5" x2="728.3" y2="290.5" stroke="#2a2a2a" stroke-width="1.05" />
<path d="M728.3,290.5 A31.4,31.4 0 0 1 759.6,259" fill="none" stroke="#2a2a2a" stroke-width="1.0" />
<line x1="755.7" y1="351.8" x2="728.8" y2="351.8" stroke="#2a2a2a" stroke-width="1.05" />
<path d="M728.8,351.8 A26.9,26.9 0 0 1 755.7,325" fill="none" stroke="#2a2a2a" stroke-width="1.0" />
<line x1="760" y1="424.9" x2="787.2" y2="424.9" stroke="#2a2a2a" stroke-width="1.05" />
<path d="M787.2,424.9 A27.3,27.3 0 0 0 760,397.6" fill="none" stroke="#2a2a2a" stroke-width="1.0" />
<line x1="808.2" y1="396.2" x2="840.8" y2="396.2" stroke="#2a2a2a" stroke-width="1.05" />
<path d="M840.8,396.2 A33.3,33.3 0 0 0 808.2,362.6" fill="none" stroke="#2a2a2a" stroke-width="1.0" />
<line x1="930" y1="436.3" x2="889.8" y2="436.3" stroke="#2a2a2a" stroke-width="1.05" />
<path d="M889.8,436.3 A40.2,40.2 0 0 0 930,476.5" fill="none" stroke="#2a2a2a" stroke-width="1.0" />
<line x1="704" y1="655" x2="704" y2="625.3" stroke="#2a2a2a" stroke-width="1.05" />
<path d="M704,625.3 A29.7,29.7 0 0 1 734.7,655" fill="none" stroke="#2a2a2a" stroke-width="1.0" />
<line x1="765.3" y1="655" x2="765.3" y2="625.3" stroke="#2a2a2a" stroke-width="1.05" />
<path d="M765.3,625.3 A29.7,29.7 0 0 0 735.6,655" fill="none" stroke="#2a2a2a" stroke-width="1.0" />
<path d="M748.7,431.9 V451.5 H703.9 V522.7 H748.7 V547.2 H679" fill="none" stroke="#2a2a2a" stroke-width="1.05" />
<rect x="713.2" y="550.7" width="32" height="64" fill="#fff" stroke="#2a2a2a" stroke-width="1.05" />
<rect x="692.7" y="553" width="19.1" height="16.3" fill="#fff" stroke="#2a2a2a" stroke-width="1.05" />
<line x1="694.2" y1="553" x2="694.2" y2="569.3" stroke="#2a2a2a" stroke-width="1.05" />
<rect x="746.3" y="553" width="19.2" height="16.3" fill="#fff" stroke="#2a2a2a" stroke-width="1.05" />
<line x1="764" y1="553" x2="764" y2="569.3" stroke="#2a2a2a" stroke-width="1.05" />
<rect x="692.7" y="574.5" width="19.1" height="15.8" fill="#fff" stroke="#2a2a2a" stroke-width="1.05" />
<line x1="694.2" y1="574.5" x2="694.2" y2="590.3" stroke="#2a2a2a" stroke-width="1.05" />
<rect x="746.3" y="574.5" width="19.2" height="15.8" fill="#fff" stroke="#2a2a2a" stroke-width="1.05" />
<line x1="764" y1="574.5" x2="764" y2="590.3" stroke="#2a2a2a" stroke-width="1.05" />
<rect x="692.7" y="595.5" width="19.1" height="17" fill="#fff" stroke="#2a2a2a" stroke-width="1.05" />
<line x1="694.2" y1="595.5" x2="694.2" y2="612.5" stroke="#2a2a2a" stroke-width="1.05" />
<rect x="746.3" y="595.5" width="19.2" height="17" fill="#fff" stroke="#2a2a2a" stroke-width="1.05" />
<line x1="764" y1="595.5" x2="764" y2="612.5" stroke="#2a2a2a" stroke-width="1.05" />
<rect x="811.2" y="519.9" width="81" height="36.6" fill="#fff" stroke="#2a2a2a" stroke-width="1.05" />
<line x1="811.2" y1="526.2" x2="892.2" y2="526.2" stroke="#2a2a2a" stroke-width="1.05" />
<line x1="817.5" y1="519.9" x2="817.5" y2="556.5" stroke="#2a2a2a" stroke-width="1.05" />
<line x1="886.3" y1="519.9" x2="886.3" y2="556.5" stroke="#2a2a2a" stroke-width="1.05" />
<line x1="839.7" y1="526.2" x2="839.7" y2="556.5" stroke="#2a2a2a" stroke-width="1.05" />
<line x1="862.5" y1="526.2" x2="862.5" y2="556.5" stroke="#2a2a2a" stroke-width="1.05" />
<rect x="811.2" y="596.9" width="81" height="36.4" fill="#fff" stroke="#2a2a2a" stroke-width="1.05" />
<line x1="811.2" y1="626.7" x2="892.2" y2="626.7" stroke="#2a2a2a" stroke-width="1.05" />
<line x1="817.5" y1="596.9" x2="817.5" y2="633.3" stroke="#2a2a2a" stroke-width="1.05" />
<line x1="886.3" y1="596.9" x2="886.3" y2="633.3" stroke="#2a2a2a" stroke-width="1.05" />
<line x1="839.7" y1="596.9" x2="839.7" y2="626.7" stroke="#2a2a2a" stroke-width="1.05" />
<line x1="862.5" y1="596.9" x2="862.5" y2="626.7" stroke="#2a2a2a" stroke-width="1.05" />
<rect x="828" y="564.7" width="47.8" height="23.3" fill="#fff" stroke="#2a2a2a" stroke-width="1.05" />
<text transform="translate(710,198.6) scale(0.96,1)" font-size="10.2" text-anchor="middle" font-weight="bold" fill="#111">FÜRDŐ</text>
<text x="710" y="208.3" font-size="10.1" text-anchor="middle" font-weight="normal" fill="#484848" stroke="#484848" stroke-width="0.15" >kerámia</text>
<text x="710" y="218.2" font-size="10.1" text-anchor="middle" font-weight="normal" fill="#484848" stroke="#484848" stroke-width="0.15" >4,56 m<tspan font-size="6.5" dy="-4">2</tspan></text>
<text transform="translate(843.5,186) scale(0.96,1)" font-size="10.2" text-anchor="middle" font-weight="bold" fill="#111">SZOBA</text>
<text x="843.5" y="195.7" font-size="10.1" text-anchor="middle" font-weight="normal" fill="#484848" stroke="#484848" stroke-width="0.15" >parketta</text>
<text x="843.5" y="205.6" font-size="10.1" text-anchor="middle" font-weight="normal" fill="#484848" stroke="#484848" stroke-width="0.15" >11,46 m<tspan font-size="6.5" dy="-4">2</tspan></text>
<text transform="translate(698.7,258.7) scale(0.96,1)" font-size="10.2" text-anchor="middle" font-weight="bold" fill="#111">WC</text>
<text x="698.7" y="268.4" font-size="10.1" text-anchor="middle" font-weight="normal" fill="#484848" stroke="#484848" stroke-width="0.15" >kerámia</text>
<text x="698.7" y="278.3" font-size="10.1" text-anchor="middle" font-weight="normal" fill="#484848" stroke="#484848" stroke-width="0.15" >1,26 m<tspan font-size="6.5" dy="-4">2</tspan></text>
<text transform="translate(741.9,259.6) scale(0.96,1)" font-size="10.2" text-anchor="middle" font-weight="bold" fill="#111">ET</text>
<text x="741.9" y="269.3" font-size="10.1" text-anchor="middle" font-weight="normal" fill="#484848" stroke="#484848" stroke-width="0.15" >kerámia</text>
<text x="741.9" y="279.2" font-size="10.1" text-anchor="middle" font-weight="normal" fill="#484848" stroke="#484848" stroke-width="0.15" >1,26 m<tspan font-size="6.5" dy="-4">2</tspan></text>
<text transform="translate(782.5,337.8) scale(0.96,1)" font-size="10.2" text-anchor="middle" font-weight="bold" fill="#111">KÖZLEKEDŐ</text>
<text x="782.5" y="347.5" font-size="10.1" text-anchor="middle" font-weight="normal" fill="#484848" stroke="#484848" stroke-width="0.15" >kerámia</text>
<text x="782.5" y="357.4" font-size="10.1" text-anchor="middle" font-weight="normal" fill="#484848" stroke="#484848" stroke-width="0.15" >4,73 m<tspan font-size="6.5" dy="-4">2</tspan></text>
<text transform="translate(719.5,355.3) scale(0.96,1)" font-size="10.2" text-anchor="middle" font-weight="bold" fill="#111">HT</text>
<text x="719.5" y="365" font-size="10.1" text-anchor="middle" font-weight="normal" fill="#484848" stroke="#484848" stroke-width="0.15" >kerámia</text>
<text x="719.5" y="374.9" font-size="10.1" text-anchor="middle" font-weight="normal" fill="#484848" stroke="#484848" stroke-width="0.15" >4,18 m<tspan font-size="6.5" dy="-4">2</tspan></text>
<text transform="translate(861.8,334.8) scale(0.96,1)" font-size="10.2" text-anchor="middle" font-weight="bold" fill="#111">SZOBA</text>
<text x="861.8" y="344.5" font-size="10.1" text-anchor="middle" font-weight="normal" fill="#484848" stroke="#484848" stroke-width="0.15" >parketta</text>
<text x="861.8" y="354.4" font-size="10.1" text-anchor="middle" font-weight="normal" fill="#484848" stroke="#484848" stroke-width="0.15" >11,55 m<tspan font-size="6.5" dy="-4">2</tspan></text>
<text transform="translate(734.7,399.7) scale(0.96,1)" font-size="10.2" text-anchor="middle" font-weight="bold" fill="#111">KAMRA</text>
<text x="734.7" y="409.4" font-size="10.1" text-anchor="middle" font-weight="normal" fill="#484848" stroke="#484848" stroke-width="0.15" >kerámia</text>
<text x="734.7" y="419.3" font-size="10.1" text-anchor="middle" font-weight="normal" fill="#484848" stroke="#484848" stroke-width="0.15" >1,71 m<tspan font-size="6.5" dy="-4">2</tspan></text>
<text transform="translate(878.6,457.3) scale(0.96,1)" font-size="10.2" text-anchor="middle" font-weight="bold" fill="#111">ESZ</text>
<text x="878.6" y="467" font-size="10.1" text-anchor="middle" font-weight="normal" fill="#484848" stroke="#484848" stroke-width="0.15" >kerámia</text>
<text x="878.6" y="476.9" font-size="10.1" text-anchor="middle" font-weight="normal" fill="#484848" stroke="#484848" stroke-width="0.15" >4,40 m<tspan font-size="6.5" dy="-4">2</tspan></text>
<text transform="translate(747.5,478.8) scale(0.96,1)" font-size="10.2" text-anchor="middle" font-weight="bold" fill="#111">KONYHA</text>
<text x="747.5" y="488.5" font-size="10.1" text-anchor="middle" font-weight="normal" fill="#484848" stroke="#484848" stroke-width="0.15" >kerámia</text>
<text x="747.5" y="498.4" font-size="10.1" text-anchor="middle" font-weight="normal" fill="#484848" stroke="#484848" stroke-width="0.15" >8,94 m<tspan font-size="6.5" dy="-4">2</tspan></text>
<text transform="translate(805.8,575.9) scale(0.96,1)" font-size="10.2" text-anchor="middle" font-weight="bold" fill="#111">NAPPALI</text>
<text x="805.8" y="585.6" font-size="10.1" text-anchor="middle" font-weight="normal" fill="#484848" stroke="#484848" stroke-width="0.15" >kerámia</text>
<text x="805.8" y="595.5" font-size="10.1" text-anchor="middle" font-weight="normal" fill="#484848" stroke="#484848" stroke-width="0.15" >18,76 m<tspan font-size="6.5" dy="-4">2</tspan></text>
<line x1="125.8" y1="234.2" x2="683" y2="234.2" stroke="#2a2a2a" stroke-width="1.0" />
<line x1="128.2" y1="239.3" x2="138.4" y2="229.1" stroke="#2a2a2a" stroke-width="1.1" />
<line x1="144.4" y1="239.3" x2="154.6" y2="229.1" stroke="#2a2a2a" stroke-width="1.1" />
<line x1="241.5" y1="239.3" x2="251.7" y2="229.1" stroke="#2a2a2a" stroke-width="1.1" />
<line x1="245.5" y1="239.3" x2="255.7" y2="229.1" stroke="#2a2a2a" stroke-width="1.1" />
<line x1="302.1" y1="239.3" x2="312.3" y2="229.1" stroke="#2a2a2a" stroke-width="1.1" />
<line x1="306.2" y1="239.3" x2="316.4" y2="229.1" stroke="#2a2a2a" stroke-width="1.1" />
<line x1="395.2" y1="239.3" x2="405.4" y2="229.1" stroke="#2a2a2a" stroke-width="1.1" />
<line x1="399.2" y1="239.3" x2="409.4" y2="229.1" stroke="#2a2a2a" stroke-width="1.1" />
<line x1="435.3" y1="239.3" x2="445.5" y2="229.1" stroke="#2a2a2a" stroke-width="1.1" />
<line x1="439.3" y1="239.3" x2="449.5" y2="229.1" stroke="#2a2a2a" stroke-width="1.1" />
<line x1="503.65" y1="239.3" x2="513.85" y2="229.1" stroke="#2a2a2a" stroke-width="1.1" />
<line x1="507.8" y1="239.3" x2="518" y2="229.1" stroke="#2a2a2a" stroke-width="1.1" />
<line x1="657.9" y1="239.3" x2="668.1" y2="229.1" stroke="#2a2a2a" stroke-width="1.1" />
<line x1="673.9" y1="239.3" x2="684.1" y2="229.1" stroke="#2a2a2a" stroke-width="1.1" />
<line x1="133.3" y1="214" x2="133.3" y2="252" stroke="#2a2a2a" stroke-width="1.0" />
<line x1="149.5" y1="225.4" x2="149.5" y2="243.8" stroke="#2a2a2a" stroke-width="1.0" />
<line x1="246.6" y1="225.4" x2="246.6" y2="243.8" stroke="#2a2a2a" stroke-width="1.0" />
<line x1="250.6" y1="225.4" x2="250.6" y2="243.8" stroke="#2a2a2a" stroke-width="1.0" />
<line x1="307.2" y1="225.4" x2="307.2" y2="243.8" stroke="#2a2a2a" stroke-width="1.0" />
<line x1="311.3" y1="225.4" x2="311.3" y2="243.8" stroke="#2a2a2a" stroke-width="1.0" />
<line x1="400.3" y1="225.4" x2="400.3" y2="243.8" stroke="#2a2a2a" stroke-width="1.0" />
<line x1="404.3" y1="225.4" x2="404.3" y2="243.8" stroke="#2a2a2a" stroke-width="1.0" />
<line x1="440.4" y1="225.4" x2="440.4" y2="243.8" stroke="#2a2a2a" stroke-width="1.0" />
<line x1="444.4" y1="225.4" x2="444.4" y2="243.8" stroke="#2a2a2a" stroke-width="1.0" />
<line x1="508.75" y1="225.4" x2="508.75" y2="243.8" stroke="#2a2a2a" stroke-width="1.0" />
<line x1="512.9" y1="225.4" x2="512.9" y2="243.8" stroke="#2a2a2a" stroke-width="1.0" />
<line x1="663" y1="225.4" x2="663" y2="243.8" stroke="#2a2a2a" stroke-width="1.0" />
<line x1="679" y1="225.4" x2="679" y2="243.8" stroke="#2a2a2a" stroke-width="1.0" />
<text x="120" y="232.5" font-size="13.5" text-anchor="middle" font-weight="normal" fill="#222" stroke="#222" stroke-width="0.3" >40</text>
<text x="189.8" y="232.5" font-size="13.5" text-anchor="middle" font-weight="normal" fill="#222" stroke="#222" stroke-width="0.3" >2,40</text>
<text x="233.7" y="232.5" font-size="13.5" text-anchor="middle" font-weight="normal" fill="#222" stroke="#222" stroke-width="0.3" >10</text>
<text x="278.7" y="232.5" font-size="13.5" text-anchor="middle" font-weight="normal" fill="#222" stroke="#222" stroke-width="0.3" >1,40</text>
<text x="324" y="232.5" font-size="13.5" text-anchor="middle" font-weight="normal" fill="#222" stroke="#222" stroke-width="0.3" >10</text>
<text x="355.4" y="232.5" font-size="13.5" text-anchor="middle" font-weight="normal" fill="#222" stroke="#222" stroke-width="0.3" >2,20</text>
<text x="387.5" y="232.5" font-size="13.5" text-anchor="middle" font-weight="normal" fill="#222" stroke="#222" stroke-width="0.3" >10</text>
<text x="422" y="232.5" font-size="13.5" text-anchor="middle" font-weight="normal" fill="#222" stroke="#222" stroke-width="0.3" >90</text>
<text x="476.7" y="232.5" font-size="13.5" text-anchor="middle" font-weight="normal" fill="#222" stroke="#222" stroke-width="0.3" >1,60</text>
<text x="526" y="232.5" font-size="13.5" text-anchor="middle" font-weight="normal" fill="#222" stroke="#222" stroke-width="0.3" >10</text>
<text x="588" y="232.5" font-size="13.5" text-anchor="middle" font-weight="normal" fill="#222" stroke="#222" stroke-width="0.3" >3,70</text>
<text x="649.4" y="232.5" font-size="13.5" text-anchor="middle" font-weight="normal" fill="#222" stroke="#222" stroke-width="0.3" >40</text>
<text x="442.7" y="220.4" font-size="13.5" text-anchor="middle" font-weight="normal" fill="#222" stroke="#222" stroke-width="0.3" >10</text>
<path d="M458.3,210 L479.2,210 L468.75,220 Z" fill="#111" stroke="#2a2a2a" stroke-width="0.5" />
<line x1="468.75" y1="205.8" x2="468.75" y2="210" stroke="#2a2a2a" stroke-width="1.0" />
<line x1="119.5" y1="244" x2="119.5" y2="531" stroke="#2a2a2a" stroke-width="1.0" />
<line x1="114.4" y1="246.9" x2="124.6" y2="257.1" stroke="#2a2a2a" stroke-width="1.1" />
<line x1="110" y1="252" x2="129" y2="252" stroke="#2a2a2a" stroke-width="1.0" />
<line x1="114.4" y1="262.4" x2="124.6" y2="272.6" stroke="#2a2a2a" stroke-width="1.1" />
<line x1="110" y1="267.5" x2="129" y2="267.5" stroke="#2a2a2a" stroke-width="1.0" />
<line x1="114.4" y1="339.6" x2="124.6" y2="349.8" stroke="#2a2a2a" stroke-width="1.1" />
<line x1="110" y1="344.7" x2="129" y2="344.7" stroke="#2a2a2a" stroke-width="1.0" />
<line x1="114.4" y1="343.7" x2="124.6" y2="353.9" stroke="#2a2a2a" stroke-width="1.1" />
<line x1="110" y1="348.8" x2="129" y2="348.8" stroke="#2a2a2a" stroke-width="1.0" />
<line x1="114.4" y1="502.4" x2="124.6" y2="512.6" stroke="#2a2a2a" stroke-width="1.1" />
<line x1="110" y1="507.5" x2="129" y2="507.5" stroke="#2a2a2a" stroke-width="1.0" />
<line x1="114.4" y1="518.7" x2="124.6" y2="528.9" stroke="#2a2a2a" stroke-width="1.1" />
<line x1="110" y1="523.8" x2="129" y2="523.8" stroke="#2a2a2a" stroke-width="1.0" />
<text x="117.5" y="280.3" font-size="13.5" text-anchor="middle" font-weight="normal" fill="#222" stroke="#222" stroke-width="0.3" transform="rotate(-90 117.5 280.3)">40</text>
<text x="117.5" y="312.7" font-size="13.5" text-anchor="middle" font-weight="normal" fill="#222" stroke="#222" stroke-width="0.3" transform="rotate(-90 117.5 312.7)">1,90</text>
<text x="117.5" y="361.5" font-size="13.5" text-anchor="middle" font-weight="normal" fill="#222" stroke="#222" stroke-width="0.3" transform="rotate(-90 117.5 361.5)">10</text>
<text x="117.5" y="431.5" font-size="13.5" text-anchor="middle" font-weight="normal" fill="#222" stroke="#222" stroke-width="0.3" transform="rotate(-90 117.5 431.5)">3,95</text>
<text x="117.5" y="537" font-size="13.5" text-anchor="middle" font-weight="normal" fill="#222" stroke="#222" stroke-width="0.3" transform="rotate(-90 117.5 537)">40</text>
<line x1="93.8" y1="183" x2="93.8" y2="532" stroke="#2a2a2a" stroke-width="1.0" />
<line x1="88.7" y1="185.4" x2="98.9" y2="195.6" stroke="#2a2a2a" stroke-width="1.1" />
<line x1="84" y1="190.5" x2="102.5" y2="190.5" stroke="#2a2a2a" stroke-width="1.0" />
<line x1="88.7" y1="247.1" x2="98.9" y2="257.3" stroke="#2a2a2a" stroke-width="1.1" />
<line x1="84" y1="252.2" x2="102.5" y2="252.2" stroke="#2a2a2a" stroke-width="1.0" />
<line x1="88.7" y1="518.9" x2="98.9" y2="529.1" stroke="#2a2a2a" stroke-width="1.1" />
<line x1="84" y1="524" x2="102.5" y2="524" stroke="#2a2a2a" stroke-width="1.0" />
<text x="91.6" y="221" font-size="13.5" text-anchor="middle" font-weight="normal" fill="#222" stroke="#222" stroke-width="0.3" transform="rotate(-90 91.6 221)">1,50</text>
<text x="91.6" y="387.5" font-size="13.5" text-anchor="middle" font-weight="normal" fill="#222" stroke="#222" stroke-width="0.3" transform="rotate(-90 91.6 387.5)">6,75</text>
<line x1="133.3" y1="190.75" x2="133.3" y2="201" stroke="#2a2a2a" stroke-width="1.0" />
<line x1="126" y1="574.4" x2="277" y2="574.4" stroke="#2a2a2a" stroke-width="1.0" />
<line x1="128.2" y1="579.5" x2="138.4" y2="569.3" stroke="#2a2a2a" stroke-width="1.1" />
<line x1="144.5" y1="579.5" x2="154.7" y2="569.3" stroke="#2a2a2a" stroke-width="1.1" />
<line x1="149.6" y1="565" x2="149.6" y2="584" stroke="#2a2a2a" stroke-width="1.0" />
<line x1="261.6" y1="579.5" x2="271.8" y2="569.3" stroke="#2a2a2a" stroke-width="1.1" />
<line x1="266.7" y1="565" x2="266.7" y2="584" stroke="#2a2a2a" stroke-width="1.0" />
<line x1="265.5" y1="579.5" x2="275.7" y2="569.3" stroke="#2a2a2a" stroke-width="1.1" />
<line x1="270.6" y1="565" x2="270.6" y2="584" stroke="#2a2a2a" stroke-width="1.0" />
<text x="120" y="572.2" font-size="13.5" text-anchor="middle" font-weight="normal" fill="#222" stroke="#222" stroke-width="0.3" >40</text>
<text x="200" y="572.2" font-size="13.5" text-anchor="middle" font-weight="normal" fill="#222" stroke="#222" stroke-width="0.3" >2,90</text>
<text x="254.2" y="572.2" font-size="13.5" text-anchor="middle" font-weight="normal" fill="#222" stroke="#222" stroke-width="0.3" >10</text>
<line x1="126" y1="583.7" x2="664.3" y2="583.7" stroke="#2a2a2a" stroke-width="1.0" />
<line x1="128.2" y1="588.8" x2="138.4" y2="578.6" stroke="#2a2a2a" stroke-width="1.1" />
<line x1="657.9" y1="588.8" x2="668.1" y2="578.6" stroke="#2a2a2a" stroke-width="1.1" />
<line x1="133.3" y1="565" x2="133.3" y2="592" stroke="#2a2a2a" stroke-width="1.0" />
<text x="398.3" y="581.3" font-size="13.5" text-anchor="middle" font-weight="normal" fill="#222" stroke="#222" stroke-width="0.3" >13,10</text>
<line x1="656" y1="89.4" x2="944" y2="89.4" stroke="#2a2a2a" stroke-width="1.0" />
<line x1="656.9" y1="94.5" x2="667.1" y2="84.3" stroke="#2a2a2a" stroke-width="1.1" />
<line x1="662" y1="80.4" x2="662" y2="99" stroke="#2a2a2a" stroke-width="1.0" />
<line x1="673.4" y1="94.5" x2="683.6" y2="84.3" stroke="#2a2a2a" stroke-width="1.1" />
<line x1="678.5" y1="80.4" x2="678.5" y2="99" stroke="#2a2a2a" stroke-width="1.0" />
<line x1="749.9" y1="94.5" x2="760.1" y2="84.3" stroke="#2a2a2a" stroke-width="1.1" />
<line x1="755" y1="80.4" x2="755" y2="99" stroke="#2a2a2a" stroke-width="1.0" />
<line x1="753.5" y1="94.5" x2="763.7" y2="84.3" stroke="#2a2a2a" stroke-width="1.1" />
<line x1="758.6" y1="80.4" x2="758.6" y2="99" stroke="#2a2a2a" stroke-width="1.0" />
<line x1="913.9" y1="94.5" x2="924.1" y2="84.3" stroke="#2a2a2a" stroke-width="1.1" />
<line x1="919" y1="80.4" x2="919" y2="99" stroke="#2a2a2a" stroke-width="1.0" />
<line x1="930.4" y1="94.5" x2="940.6" y2="84.3" stroke="#2a2a2a" stroke-width="1.1" />
<line x1="935.5" y1="80.4" x2="935.5" y2="99" stroke="#2a2a2a" stroke-width="1.0" />
<text x="650" y="87.9" font-size="13.5" text-anchor="middle" font-weight="normal" fill="#222" stroke="#222" stroke-width="0.3" >40</text>
<text x="710" y="87.9" font-size="13.5" text-anchor="middle" font-weight="normal" fill="#222" stroke="#222" stroke-width="0.3" >1,90</text>
<text x="743" y="87.9" font-size="13.5" text-anchor="middle" font-weight="normal" fill="#222" stroke="#222" stroke-width="0.3" >10</text>
<text x="831.5" y="87.9" font-size="13.5" text-anchor="middle" font-weight="normal" fill="#222" stroke="#222" stroke-width="0.3" >3,95</text>
<text x="906.5" y="87.9" font-size="13.5" text-anchor="middle" font-weight="normal" fill="#222" stroke="#222" stroke-width="0.3" >40</text>
<line x1="961.3" y1="113" x2="961.3" y2="680" stroke="#2a2a2a" stroke-width="1.0" />
<line x1="956.2" y1="115.7" x2="966.4" y2="125.9" stroke="#2a2a2a" stroke-width="1.1" />
<line x1="952" y1="120.8" x2="970.7" y2="120.8" stroke="#2a2a2a" stroke-width="1.0" />
<line x1="956.2" y1="131.4" x2="966.4" y2="141.6" stroke="#2a2a2a" stroke-width="1.1" />
<line x1="952" y1="136.5" x2="970.7" y2="136.5" stroke="#2a2a2a" stroke-width="1.0" />
<line x1="956.2" y1="246.2" x2="966.4" y2="256.4" stroke="#2a2a2a" stroke-width="1.1" />
<line x1="952" y1="251.3" x2="970.7" y2="251.3" stroke="#2a2a2a" stroke-width="1.0" />
<line x1="956.2" y1="250.8" x2="966.4" y2="261" stroke="#2a2a2a" stroke-width="1.1" />
<line x1="952" y1="255.9" x2="970.7" y2="255.9" stroke="#2a2a2a" stroke-width="1.0" />
<line x1="956.2" y1="422.2" x2="966.4" y2="432.4" stroke="#2a2a2a" stroke-width="1.1" />
<line x1="952" y1="427.3" x2="970.7" y2="427.3" stroke="#2a2a2a" stroke-width="1.0" />
<line x1="956.2" y1="425.4" x2="966.4" y2="435.6" stroke="#2a2a2a" stroke-width="1.1" />
<line x1="952" y1="430.5" x2="970.7" y2="430.5" stroke="#2a2a2a" stroke-width="1.0" />
<line x1="956.2" y1="490.1" x2="966.4" y2="500.3" stroke="#2a2a2a" stroke-width="1.1" />
<line x1="952" y1="495.2" x2="970.7" y2="495.2" stroke="#2a2a2a" stroke-width="1.0" />
<line x1="956.2" y1="493.6" x2="966.4" y2="503.8" stroke="#2a2a2a" stroke-width="1.1" />
<line x1="952" y1="498.7" x2="970.7" y2="498.7" stroke="#2a2a2a" stroke-width="1.0" />
<line x1="956.2" y1="644.2" x2="966.4" y2="654.4" stroke="#2a2a2a" stroke-width="1.1" />
<line x1="952" y1="649.3" x2="970.7" y2="649.3" stroke="#2a2a2a" stroke-width="1.0" />
<line x1="956.2" y1="661.8" x2="966.4" y2="672" stroke="#2a2a2a" stroke-width="1.1" />
<line x1="952" y1="666.9" x2="970.7" y2="666.9" stroke="#2a2a2a" stroke-width="1.0" />
<text x="958.7" y="149" font-size="13.5" text-anchor="middle" font-weight="normal" fill="#222" stroke="#222" stroke-width="0.3" transform="rotate(-90 958.7 149)">40</text>
<text x="958.7" y="202.7" font-size="13.5" text-anchor="middle" font-weight="normal" fill="#222" stroke="#222" stroke-width="0.3" transform="rotate(-90 958.7 202.7)">2,90</text>
<text x="958.7" y="268.5" font-size="13.5" text-anchor="middle" font-weight="normal" fill="#222" stroke="#222" stroke-width="0.3" transform="rotate(-90 958.7 268.5)">10</text>
<text x="958.7" y="342" font-size="13.5" text-anchor="middle" font-weight="normal" fill="#222" stroke="#222" stroke-width="0.3" transform="rotate(-90 958.7 342)">4,20</text>
<text x="958.7" y="414" font-size="13.5" text-anchor="middle" font-weight="normal" fill="#222" stroke="#222" stroke-width="0.3" transform="rotate(-90 958.7 414)">10</text>
<text x="958.7" y="463.6" font-size="13.5" text-anchor="middle" font-weight="normal" fill="#222" stroke="#222" stroke-width="0.3" transform="rotate(-90 958.7 463.6)">1,60</text>
<text x="958.7" y="511" font-size="13.5" text-anchor="middle" font-weight="normal" fill="#222" stroke="#222" stroke-width="0.3" transform="rotate(-90 958.7 511)">10</text>
<text x="958.7" y="581.3" font-size="13.5" text-anchor="middle" font-weight="normal" fill="#222" stroke="#222" stroke-width="0.3" transform="rotate(-90 958.7 581.3)">3,70</text>
<text x="958.7" y="675.6" font-size="13.5" text-anchor="middle" font-weight="normal" fill="#222" stroke="#222" stroke-width="0.3" transform="rotate(-90 958.7 675.6)">40</text>
<path d="M953.2,461.3 L964,451.2 L964,471.5 Z" fill="#111" stroke="#2a2a2a" stroke-width="0.5" />
<line x1="962.5" y1="461.3" x2="974.7" y2="461.3" stroke="#2a2a2a" stroke-width="1.0" />
<line x1="656" y1="709.3" x2="942.7" y2="709.3" stroke="#2a2a2a" stroke-width="1.0" />
<line x1="656.2" y1="714.4" x2="666.4" y2="704.2" stroke="#2a2a2a" stroke-width="1.1" />
<line x1="661.3" y1="700" x2="661.3" y2="718.7" stroke="#2a2a2a" stroke-width="1.0" />
<line x1="673.6" y1="714.4" x2="683.8" y2="704.2" stroke="#2a2a2a" stroke-width="1.1" />
<line x1="678.7" y1="700" x2="678.7" y2="718.7" stroke="#2a2a2a" stroke-width="1.0" />
<line x1="913.6" y1="714.4" x2="923.8" y2="704.2" stroke="#2a2a2a" stroke-width="1.1" />
<line x1="918.7" y1="700" x2="918.7" y2="718.7" stroke="#2a2a2a" stroke-width="1.0" />
<line x1="930.1" y1="714.4" x2="940.3" y2="704.2" stroke="#2a2a2a" stroke-width="1.1" />
<line x1="935.2" y1="700" x2="935.2" y2="718.7" stroke="#2a2a2a" stroke-width="1.0" />
<text x="649.7" y="707.2" font-size="13.5" text-anchor="middle" font-weight="normal" fill="#222" stroke="#222" stroke-width="0.3" >40</text>
<text x="790.7" y="707.2" font-size="13.5" text-anchor="middle" font-weight="normal" fill="#222" stroke="#222" stroke-width="0.3" >5,95</text>
<text x="906.7" y="707.2" font-size="13.5" text-anchor="middle" font-weight="normal" fill="#222" stroke="#222" stroke-width="0.3" >40</text>
<line x1="656" y1="732.5" x2="942.7" y2="732.5" stroke="#2a2a2a" stroke-width="1.0" />
<line x1="656.2" y1="737.6" x2="666.4" y2="727.4" stroke="#2a2a2a" stroke-width="1.1" />
<line x1="930.1" y1="737.6" x2="940.3" y2="727.4" stroke="#2a2a2a" stroke-width="1.1" />
<line x1="661.3" y1="718.7" x2="661.3" y2="741.3" stroke="#2a2a2a" stroke-width="1.0" />
<line x1="935.2" y1="718.7" x2="935.2" y2="741.3" stroke="#2a2a2a" stroke-width="1.0" />
<text x="798.7" y="731.2" font-size="13.5" text-anchor="middle" font-weight="normal" fill="#222" stroke="#222" stroke-width="0.3" >6,75</text>
<text x="306.8" y="771" font-size="28.3" text-anchor="start" font-weight="normal" fill="#111" stroke="#111" stroke-width="0.3" >91 m<tspan font-size="17" dx="1" dy="-10">2</tspan></text>
<text x="710.2" y="770.7" font-size="28.3" text-anchor="start" font-weight="normal" fill="#111" stroke="#111" stroke-width="0.3" >91 m<tspan font-size="17" dx="1" dy="-10">2</tspan></text>
<text x="306.7" y="807.3" font-size="16.2" text-anchor="start" font-weight="normal" fill="#111" stroke="#111" stroke-width="0.3" >netto: 72,8 <tspan dx="1.5">m</tspan><tspan font-size="10.5" dx="0.5" dy="-6.5">2</tspan></text>
<rect x="0.5" y="0.5" width="1199" height="846" fill="none" stroke="#ececec" stroke-width="1"/>
</svg></body></html>
